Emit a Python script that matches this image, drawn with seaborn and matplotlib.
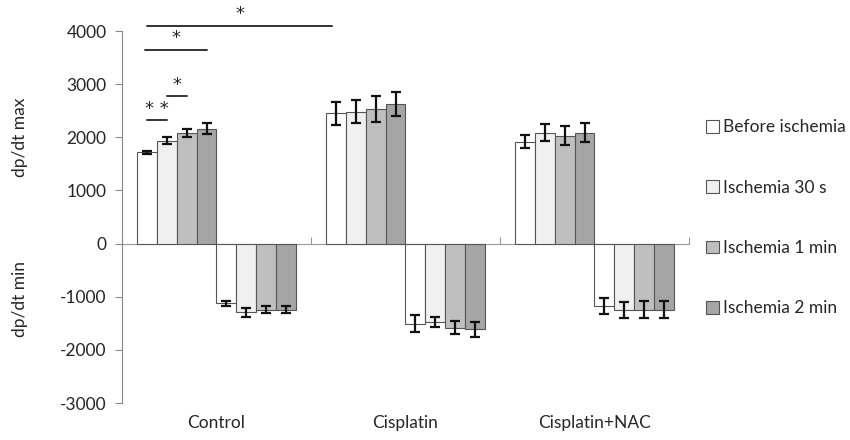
import matplotlib
matplotlib.use("Agg")
import matplotlib.pyplot as plt
import matplotlib.transforms as mtransforms
from matplotlib.patches import Patch
import seaborn as sns
import pandas as pd

categories = ["Control", "Cisplatin", "Cisplatin+NAC"]
series = ["Before ischemia", "Ischemia 30 s", "Ischemia 1 min", "Ischemia 2 min"]
colors = ["#ffffff", "#f0f0f0", "#bfbfbf", "#a5a5a5"]

# dp/dt max, one list per series (Control, Cisplatin, Cisplatin+NAC)
max_before = [1720, 2455, 1915]
max_30s = [1935, 2480, 2090]
max_1min = [2085, 2525, 2030]
max_2min = [2165, 2625, 2090]
max_before_err = [30, 215, 125]
max_30s_err = [70, 215, 165]
max_1min_err = [70, 245, 180]
max_2min_err = [95, 220, 180]

# dp/dt min
min_before = [-1120, -1505, -1175]
min_30s = [-1295, -1470, -1250]
min_1min = [-1240, -1580, -1240]
min_2min = [-1240, -1610, -1240]
min_before_err = [45, 160, 145]
min_30s_err = [85, 90, 150]
min_1min_err = [60, 130, 155]
min_2min_err = [60, 140, 158]

means = [max_before, max_30s, max_1min, max_2min, min_before, min_30s, min_1min, min_2min]
errs = [max_before_err, max_30s_err, max_1min_err, max_2min_err,
        min_before_err, min_30s_err, min_1min_err, min_2min_err]
levels = ["max " + s for s in series] + ["min " + s for s in series]

rows = []
for lev, vals in zip(levels, means):
    for cat, v in zip(categories, vals):
        rows.append({"group": cat, "level": lev, "value": v})
df = pd.DataFrame(rows)

sns.set_style("white")
plt.rcParams["font.family"] = ["Lato", "DejaVu Sans"]
plt.rcParams["axes.unicode_minus"] = False

fs = 12.5

fig = plt.figure(figsize=(8.5, 4.4), dpi=100)
ax = fig.add_axes([0.1435, 0.084, 0.667, 0.8455])

sns.barplot(data=df, x="group", y="value", hue="level", hue_order=levels,
            order=categories, palette=colors * 2, width=0.84, errorbar=None,
            edgecolor="#555555", linewidth=0.8, legend=False, ax=ax)

for cont, err in zip(ax.containers, errs):
    xs = [b.get_x() + b.get_width() / 2 for b in cont]
    ys = [b.get_y() + b.get_height() for b in cont]
    ax.errorbar(xs, ys, yerr=err, fmt="none", ecolor="#111111",
                elinewidth=1.6, capsize=3.6, capthick=1.6, zorder=5)

ax.set_ylim(-3000, 4000)
ax.set_xlim(-0.5, 2.5)
ax.set_yticks(range(-3000, 4001, 1000))
ax.tick_params(axis="y", labelsize=fs, length=5, color="#888888",
               direction="out", left=True, pad=6)
ax.set_xticks([-0.5, 0.5, 1.5, 2.5])
ax.set_xticklabels([])
ax.tick_params(axis="x", direction="in", length=5, color="#999999", bottom=True)
ax.set_xlabel("")
ax.set_ylabel("")
for side in ["top", "right"]:
    ax.spines[side].set_visible(False)
ax.spines["left"].set_color("#888888")
ax.spines["bottom"].set_color("#999999")
ax.spines["bottom"].set_position(("data", 0))
ax.spines["bottom"].set_zorder(0)

trans = mtransforms.blended_transform_factory(ax.transData, ax.transAxes)
for i, cat in enumerate(categories):
    ax.text(i, -0.054, cat, transform=trans, ha="center", va="center", fontsize=fs)

trans_y = mtransforms.blended_transform_factory(ax.transAxes, ax.transData)
ax.text(-0.18, 2000, "dp/dt max", transform=trans_y, rotation=90,
        ha="center", va="center", fontsize=fs)
ax.text(-0.18, -1050, "dp/dt min", transform=trans_y, rotation=90,
        ha="center", va="center", fontsize=fs)

# significance marks
c0 = [cont[0].get_x() + cont[0].get_width() / 2 for cont in ax.containers[:4]]
cis0 = ax.containers[0][1].get_x() + ax.containers[0][1].get_width() / 2
sig = [(c0[0], c0[1], 2320, "* *"), (c0[1], c0[2], 2770, "*"),
       (c0[0] - 0.012, c0[3], 3650, "*"), (c0[0], cis0 - 0.02, 4100, "*")]
for x0, x1, y, lab in sig:
    ax.plot([x0, x1], [y, y], color="#333333", lw=1.4, clip_on=False)
    ax.text((x0 + x1) / 2, y + 50, lab, ha="center", va="bottom", fontsize=13,
            family="DejaVu Sans", clip_on=False)

handles = [Patch(facecolor=c, edgecolor="#555555", linewidth=0.8) for c in colors]
fig.legend(handles, series, loc="center left", bbox_to_anchor=(0.812, 0.505),
           frameon=False, fontsize=fs, labelspacing=2.55, handlelength=0.75,
           handleheight=0.75, handletextpad=0.25)

fig.savefig("out.png", dpi=100)
